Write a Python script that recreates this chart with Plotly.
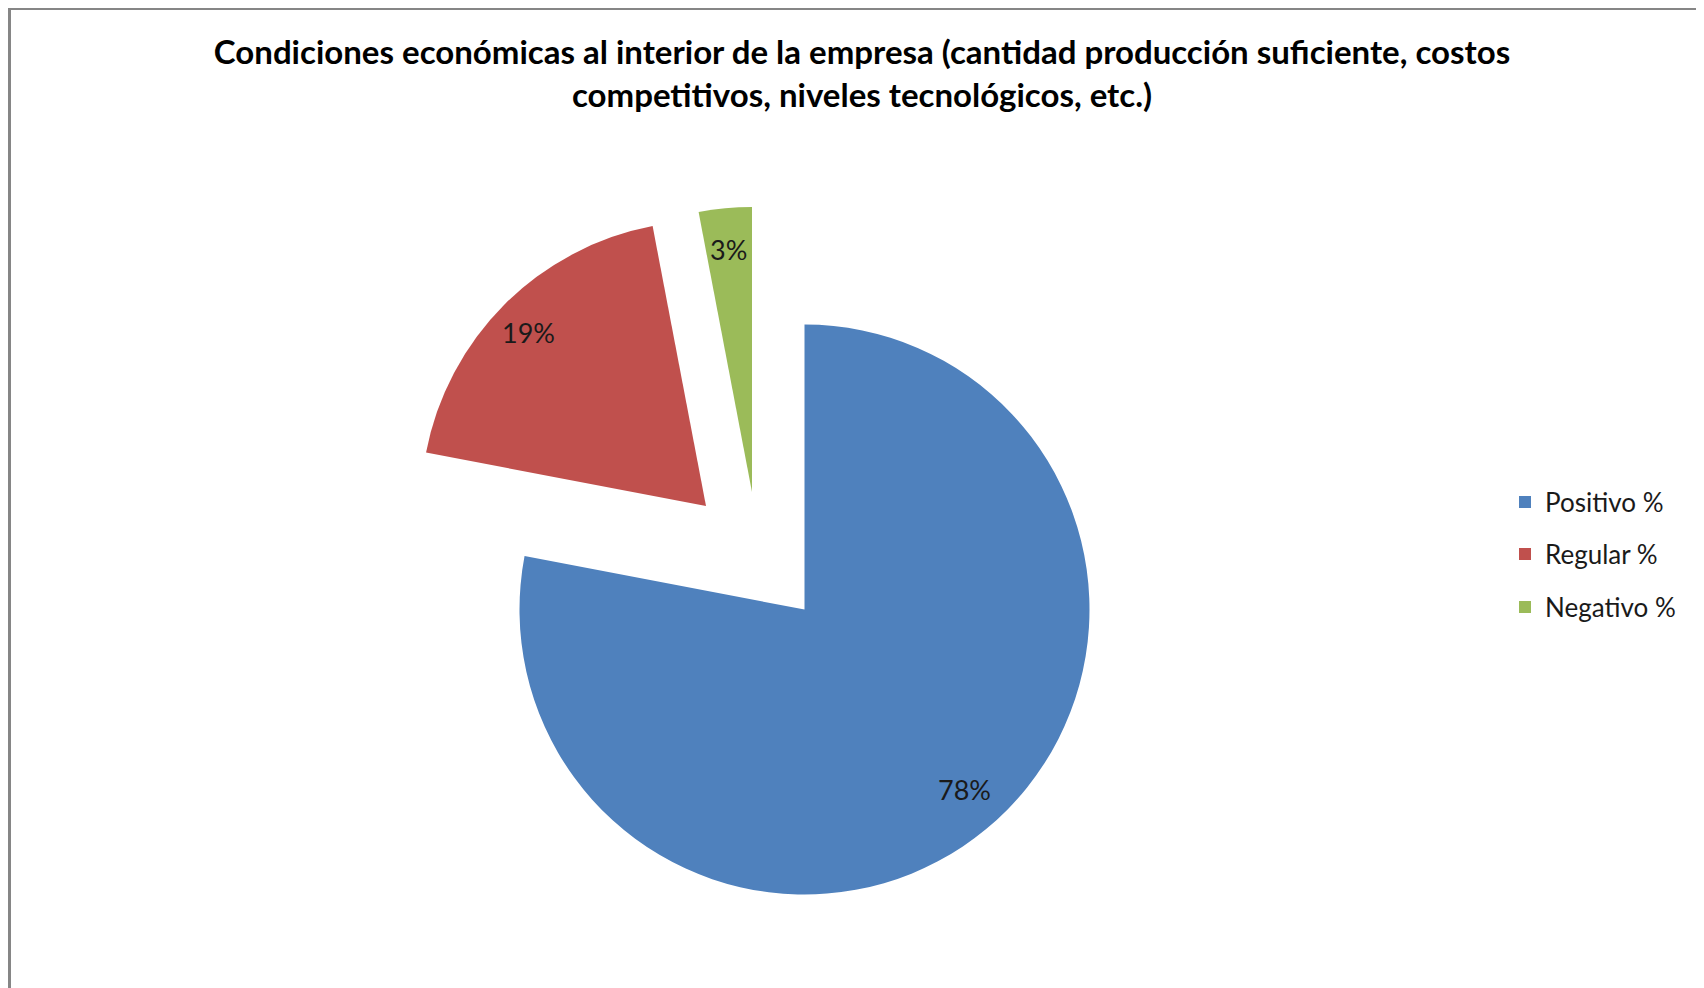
import math
import plotly.graph_objects as go

# ---- data ----
labels = ["Positivo %", "Regular %", "Negativo %"]
values = [78, 19, 3]
title_text = ("Condiciones económicas al interior de la empresa (cantidad producción suficiente, costos"
              "<br>competitivos, niveles tecnológicos, etc.)")

# ---- style / layout ----
colors = ["#4F81BD", "#C0504D", "#9BBB59"]
W, H = 1704, 988
OFF = 8                           # default page margin of the html body
PIE_R = 285                       # pie radius in px
# apex (centre) of each exploded slice, page px from top-left
SLICE_CENTER = [(804.5, 609.5), (706.0, 506.0), (752.0, 492.0)]
LABEL_RX, LABEL_RY = 296 * 0.85, 278 * 0.86   # data-label placement (px)
LABEL_DY = -4                     # visual centring of label text (px)
LEGEND_ROWS = [502, 554, 607]     # page px, row centres
LEGEND_X = 1545 - 40              # page px
FONT = "Lato, 'Open Sans', sans-serif"
TRANSPARENT = "rgba(0,0,0,0)"


def px_x(x):
    return (x - OFF) / W


def px_y(y):
    return 1 - (y - OFF) / H


fig = go.Figure()

# legend entries: one zero-size pie per label, each in its own legend box
legend_names = ["legend", "legend2", "legend3"]
for i, lab in enumerate(labels):
    fig.add_trace(go.Pie(
        labels=[lab], values=[values[i]], sort=False,
        marker=dict(colors=[colors[i]], line=dict(width=0)), textinfo="none",
        domain=dict(x=[0.0, 0.0001], y=[0.0, 0.0001]),
        showlegend=True, hoverinfo="skip", legend=legend_names[i],
    ))

total = sum(values)
cum = 0.0
annotations = []
for i, v in enumerate(values):
    cx, cy = SLICE_CENTER[i]
    cols = [c if j == i else TRANSPARENT for j, c in enumerate(colors)]
    fig.add_trace(go.Pie(
        labels=labels, values=values, sort=False, direction="clockwise", rotation=0,
        marker=dict(colors=cols, line=dict(width=0)), textinfo="none",
        domain=dict(x=[px_x(cx - PIE_R), px_x(cx + PIE_R)],
                    y=[px_y(cy + PIE_R), px_y(cy - PIE_R)]),
        showlegend=False, hoverinfo="label+percent",
    ))
    mid = (cum + v / 2) / total * 2 * math.pi
    cum += v
    lx = cx + LABEL_RX * math.sin(mid)
    ly = cy - LABEL_RY * math.cos(mid) + LABEL_DY
    annotations.append(dict(
        x=px_x(lx), y=px_y(ly), xref="paper", yref="paper",
        text=f"{round(v / total * 100)}%", showarrow=False,
        xanchor="center", yanchor="middle",
        font=dict(family=FONT, size=27, color="#1a1a1a"),
    ))

legend_common = dict(xanchor="left", yanchor="middle",
                     font=dict(family=FONT, size=26, color="#1a1a1a"),
                     bgcolor="rgba(0,0,0,0)")

fig.update_layout(
    width=W, height=H,
    margin=dict(l=0, r=0, t=0, b=0),
    paper_bgcolor="white", plot_bgcolor="white",
    title=dict(text=title_text, x=px_x(862), xanchor="center", xref="paper",
               y=1 - 56 / H, yref="container", yanchor="top",
               font=dict(family=FONT, size=33, color="black", weight="bold")),
    legend=dict(x=px_x(LEGEND_X), y=px_y(LEGEND_ROWS[0]), **legend_common),
    legend2=dict(x=px_x(LEGEND_X), y=px_y(LEGEND_ROWS[1]), **legend_common),
    legend3=dict(x=px_x(LEGEND_X), y=px_y(LEGEND_ROWS[2]), **legend_common),
    annotations=annotations,
    shapes=[dict(type="rect", xref="paper", yref="paper",
                 x0=px_x(9.5), x1=1.05, y0=-0.05, y1=px_y(8.5),
                 line=dict(color="#868686", width=3), fillcolor="rgba(0,0,0,0)",
                 layer="below")],
)

fig.write_html("out.html")
